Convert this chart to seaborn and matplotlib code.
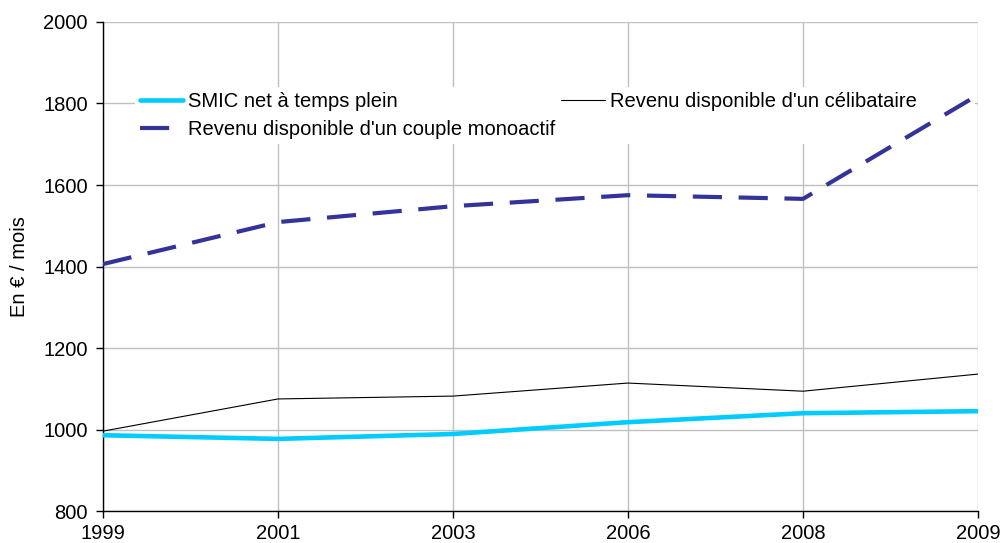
import numpy as np
import pandas as pd
import matplotlib
matplotlib.use("Agg")
import matplotlib.pyplot as plt
import matplotlib.patches as mpatches
import seaborn as sns

# ── Data ──────────────────────────────────────────────────────
years = ["1999", "2001", "2003", "2006", "2008", "2009"]
smic = [986, 977, 989, 1018, 1040, 1045]
celibataire = [996, 1075, 1082, 1114, 1094, 1136]
couple = [1406, 1509, 1548, 1575, 1566, 1821]

label_smic = "SMIC net à temps plein"
label_celib = "Revenu disponible d'un célibataire"
label_couple = "Revenu disponible d'un couple monoactif"

FS = 14.5

sns.set_style("white")
plt.rcParams["font.family"] = ["Liberation Sans", "DejaVu Sans"]
plt.rcParams.update({"text.color": "black", "axes.labelcolor": "black",
                     "xtick.color": "black", "ytick.color": "black"})

fig, ax = plt.subplots(figsize=(10, 5.43), dpi=100)
fig.subplots_adjust(left=0.103, right=0.978, top=0.9595, bottom=0.0589)

pos = np.arange(len(years))
df = pd.DataFrame({"pos": pos, "smic": smic, "celib": celibataire, "couple": couple})

sns.lineplot(data=df, x="pos", y="smic", ax=ax, color="#00CCFF", lw=3.3,
             label=label_smic, zorder=4)
sns.lineplot(data=df, x="pos", y="celib", ax=ax, color="black", lw=0.8,
             label=label_celib, zorder=4)
sns.lineplot(data=df, x="pos", y="couple", ax=ax, color="#333399", lw=3,
             label=label_couple, zorder=4, dashes=False)
ax.lines[-1].set_dashes((7, 4))

ax.set_xlim(0, len(years) - 1)
ax.set_ylim(800, 2000)
ax.set_xticks(pos)
ax.set_xticklabels(years)
ax.set_yticks(np.arange(800, 2001, 200))
ax.tick_params(axis="both", labelsize=FS, length=5, width=1, color="black",
               direction="out", bottom=True, left=True)
ax.tick_params(axis="x", pad=4)
ax.tick_params(axis="y", pad=6)

ax.grid(True, color="#C0C0C0", lw=1)
ax.set_axisbelow(True)
for side in ["top", "right"]:
    ax.spines[side].set_visible(False)
for side in ["left", "bottom"]:
    ax.spines[side].set_color("black")
    ax.spines[side].set_linewidth(1)

ax.set_xlabel("")
ax.set_ylabel("En € / mois", fontsize=FS, labelpad=10)

# white panel behind the legend (hides grid, lines stay on top)
bg = mpatches.Rectangle((0.0366, 0.750), 0.96, 0.118, transform=ax.transAxes,
                        facecolor="white", edgecolor="none", zorder=1)
ax.add_patch(bg)

h, l = ax.get_legend_handles_labels()
order = [0, 2, 1]
ax.legend([h[i] for i in order], [l[i] for i in order], ncol=2,
          loc="upper left", bbox_to_anchor=(0.0423, 0.856),
          frameon=False, fontsize=FS, borderpad=0, borderaxespad=0,
          handlelength=2.14, handletextpad=0.25, columnspacing=0.3,
          labelspacing=0.45)

fig.savefig("out.png", dpi=100)
